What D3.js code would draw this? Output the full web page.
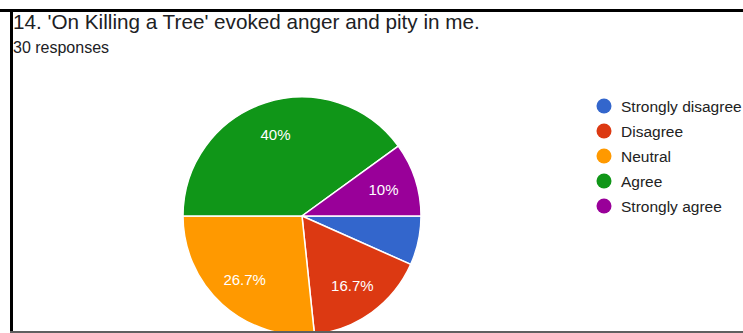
<!DOCTYPE html>
<html>
<head>
<meta charset="utf-8">
<script src="https://cdn.jsdelivr.net/npm/d3@7"></script>
<style>
  body { margin: 0; background: #fff; }
  svg { display: block; font-family: "Liberation Sans", Arial, sans-serif; }
</style>
</head>
<body>
<svg id="chart" width="743" height="333"></svg>
<script>
let categories = ["Strongly disagree", "Disagree", "Neutral", "Agree", "Strongly agree"];
let counts = [2, 5, 8, 12, 3];
let colors = ["#3366cc", "#dc3912", "#ff9900", "#109618", "#990099"];
let labelText = ["", "16.7%", "26.7%", "40%", "10%"];

let title = "14. 'On Killing a Tree' evoked anger and pity in me.";
let subtitle = "30 responses";

let svg = d3.select("#chart");
let W = 743, H = 333;

let cx = 302, cy = 216, R = 119;

let clip = svg.append("clipPath").attr("id", "frame")
    .append("rect").attr("x", 12).attr("y", 11).attr("width", W - 12).attr("height", 320);

let pie = d3.pie().sort(null)
    .startAngle(Math.PI / 2).endAngle(Math.PI / 2 + 2 * Math.PI);
let arc = d3.arc().innerRadius(0).outerRadius(R);
let labelArc = d3.arc().innerRadius(R * 0.72).outerRadius(R * 0.72);

let arcs = pie(counts);

let g = svg.append("g").attr("clip-path", "url(#frame)")
    .append("g").attr("transform", `translate(${cx},${cy})`);

g.selectAll("path.slice")
    .data(arcs).enter().append("path")
    .attr("class", "slice")
    .attr("d", arc)
    .attr("fill", (d, i) => colors[i])
    .attr("stroke", "#fff")
    .attr("stroke-width", 1.5);

g.selectAll("text.lbl")
    .data(arcs).enter().append("text")
    .attr("class", "lbl")
    .attr("transform", d => `translate(${labelArc.centroid(d)})`)
    .attr("text-anchor", "middle")
    .attr("dominant-baseline", "central")
    .attr("fill", "#fff")
    .style("font-size", "15px")
    .text((d, i) => labelText[i]);

// title
svg.append("text").attr("x", 13).attr("y", 29)
    .attr("fill", "#202124").style("font-size", "20.7px")
    .text(title);
svg.append("text").attr("x", 13).attr("y", 53)
    .attr("fill", "#202124").style("font-size", "16px")
    .text(subtitle);

// legend
let legend = svg.append("g").attr("transform", "translate(604,106)");
let items = legend.selectAll("g.item")
    .data(categories).enter().append("g")
    .attr("class", "item")
    .attr("transform", (d, i) => `translate(0,${i * 25})`);
items.append("circle").attr("r", 7.5).attr("fill", (d, i) => colors[i]);
items.append("text").attr("x", 17).attr("dominant-baseline", "central")
    .attr("fill", "#222").style("font-size", "15.5px")
    .text(d => d);

// frame lines
svg.append("rect").attr("x", 0).attr("y", 9).attr("width", W).attr("height", 3).attr("fill", "#000");
svg.append("rect").attr("x", 10).attr("y", 9).attr("width", 3).attr("height", H - 9).attr("fill", "#000");
svg.append("rect").attr("x", 10).attr("y", 331).attr("width", W - 10).attr("height", 2).attr("fill", "#5f5f5f");
</script>
</body>
</html>
